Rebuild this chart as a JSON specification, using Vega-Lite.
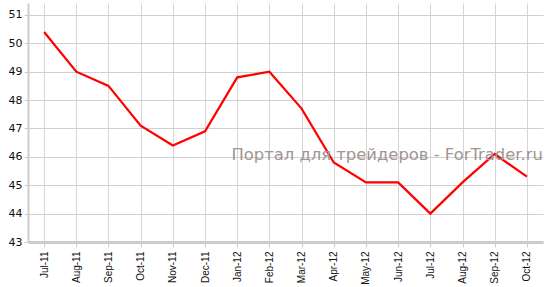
{
  "$schema": "https://vega.github.io/schema/vega-lite/v6.json",
  "width": 515,
  "height": 239,
  "autosize": {"type": "none"},
  "padding": {"left": 28, "top": 3, "right": 6, "bottom": 45},
  "background": "white",
  "config": {"view": {"stroke": null}},
  "datasets": {
    "series": [
      {"month": "Jul-11", "value": 50.4},
      {"month": "Aug-11", "value": 49.0},
      {"month": "Sep-11", "value": 48.5},
      {"month": "Oct-11", "value": 47.1},
      {"month": "Nov-11", "value": 46.4},
      {"month": "Dec-11", "value": 46.9},
      {"month": "Jan-12", "value": 48.8},
      {"month": "Feb-12", "value": 49.0},
      {"month": "Mar-12", "value": 47.7},
      {"month": "Apr-12", "value": 45.8},
      {"month": "May-12", "value": 45.1},
      {"month": "Jun-12", "value": 45.1},
      {"month": "Jul-12", "value": 44.0},
      {"month": "Aug-12", "value": 45.1},
      {"month": "Sep-12", "value": 46.1},
      {"month": "Oct-12", "value": 45.3}
    ],
    "watermark": [
      {"month": "Oct-12", "value": 46.07, "label": "Портал для трейдеров - ForTrader.ru"}
    ]
  },
  "encoding": {
    "x": {
      "field": "month", "type": "ordinal",
      "scale": {"type": "point", "padding": 0.5, "domain": ["Jul-11","Aug-11","Sep-11","Oct-11","Nov-11","Dec-11","Jan-12","Feb-12","Mar-12","Apr-12","May-12","Jun-12","Jul-12","Aug-12","Sep-12","Oct-12"]},
      "axis": {
        "title": null, "labelAngle": -90, "labelFont": "Liberation Sans", "labelFontSize": 10,
        "labelColor": "#111", "grid": true, "gridColor": "#d6d6d6", "gridWidth": 1,
        "domainColor": "#cccccc", "domainWidth": 3, "tickColor": "#cccccc", "tickSize": 5,
        "labelPadding": 4, "labelBaseline": "middle", "labelOverlap": false
      }
    },
    "y": {
      "field": "value", "type": "quantitative",
      "scale": {"domain": [43, 51.42], "nice": false, "zero": false},
      "axis": {
        "title": null, "values": [43, 44, 45, 46, 47, 48, 49, 50, 51],
        "labelFont": "DejaVu Sans", "labelFontSize": 11, "labelColor": "#111",
        "grid": true, "gridColor": "#d0d0d0", "gridWidth": 1, "labelOverlap": false,
        "domainColor": "#cccccc", "domainWidth": 2, "tickColor": "#cccccc", "tickSize": 4,
        "labelPadding": 2
      }
    }
  },
  "layer": [
    {
      "data": {"name": "series"},
      "mark": {"type": "line", "color": "#ff0000", "strokeWidth": 2.2}
    },
    {
      "data": {"name": "watermark"},
      "mark": {"type": "text", "align": "right", "baseline": "middle", "dx": 16, "font": "DejaVu Sans", "fontSize": 16.4, "color": "#a09595"},
      "encoding": {
        "text": {"field": "label"}
      }
    }
  ]
}
